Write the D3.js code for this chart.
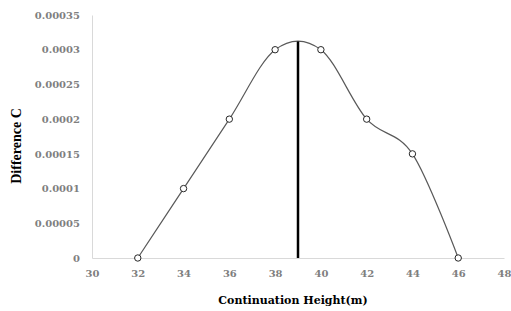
<!DOCTYPE html>
<html>
<head>
<meta charset="utf-8">
<script src="https://cdn.jsdelivr.net/npm/d3@7"></script>
<style>
  html, body { margin: 0; padding: 0; background: #fff; }
</style>
</head>
<body>
<svg id="chart"></svg>
<script>
// Data
const heights = [32, 34, 36, 38, 40, 42, 44, 46];
const differences = [0, 0.0001, 0.0002, 0.0003, 0.0003, 0.0002, 0.00015, 0];
const peakLine = [{ x: 39, y: 0 }, { x: 39, y: 0.000312 }];
const xTicks = [30, 32, 34, 36, 38, 40, 42, 44, 46, 48];
const yTicks = [0, 0.00005, 0.0001, 0.00015, 0.0002, 0.00025, 0.0003, 0.00035];
const yTickLabels = ["0", "0.00005", "0.0001", "0.00015", "0.0002", "0.00025", "0.0003", "0.00035"];

const width = 511;
const height = 311;
const marginLeft = 92;
const marginRight = 7;
const marginTop = 15;
const marginBottom = 53;

const svg = d3.select("#chart")
  .attr("width", width)
  .attr("height", height)
  .attr("viewBox", [0, 0, width, height]);

const x = d3.scaleLinear()
  .domain([30, 48])
  .range([marginLeft, width - marginRight]);

const y = d3.scaleLinear()
  .domain([0, 0.00035])
  .range([height - marginBottom, marginTop]);

// X axis
const xAxis = svg.append("g")
  .attr("transform", `translate(0,${height - marginBottom})`)
  .call(d3.axisBottom(x).tickValues(xTicks).tickSize(0).tickPadding(12).tickFormat(d3.format("d")));
xAxis.select(".domain").attr("stroke", "#d9d9d9").attr("stroke-width", 1);
xAxis.selectAll("text")
  .attr("fill", "#7f7f7f")
  .style("font-family", "'DejaVu Serif', serif")
  .style("font-weight", "bold")
  .style("font-size", "10px");

// Y axis
const yAxis = svg.append("g")
  .attr("transform", `translate(${marginLeft},0)`)
  .call(d3.axisLeft(y).tickValues(yTicks).tickSize(0).tickPadding(12)
    .tickFormat((d, i) => yTickLabels[i]));
yAxis.select(".domain").attr("stroke", "#d9d9d9").attr("stroke-width", 1);
yAxis.selectAll("text")
  .attr("fill", "#7f7f7f")
  .style("font-family", "'DejaVu Serif', serif")
  .style("font-weight", "bold")
  .style("font-size", "10px");

// Axis titles
svg.append("text")
  .attr("x", 293)
  .attr("y", 304)
  .attr("text-anchor", "middle")
  .style("font-family", "'DejaVu Serif', serif")
  .style("font-weight", "bold")
  .style("font-size", "11px")
  .attr("fill", "#000")
  .text("Continuation  Height(m)");

svg.append("text")
  .attr("transform", "translate(21,146) rotate(-90)")
  .attr("text-anchor", "middle")
  .style("font-family", "'Liberation Serif', serif")
  .style("font-weight", "bold")
  .style("font-size", "14px")
  .attr("fill", "#000")
  .text("Difference C");

// Smoothed curve
const points = heights.map((h, i) => ({ x: h, y: differences[i] }));
const line = d3.line()
  .x(d => x(d.x))
  .y(d => y(d.y))
  .curve(d3.curveCardinal.tension(0));

svg.append("path")
  .datum(points)
  .attr("fill", "none")
  .attr("stroke", "#595959")
  .attr("stroke-width", 1.2)
  .attr("d", line);

// Peak line
svg.append("path")
  .datum(peakLine)
  .attr("fill", "none")
  .attr("stroke", "#000")
  .attr("stroke-width", 2.5)
  .attr("d", d3.line().x(d => x(d.x)).y(d => y(d.y)));

// Markers
svg.append("g")
  .selectAll("circle")
  .data(points)
  .join("circle")
  .attr("cx", d => x(d.x))
  .attr("cy", d => y(d.y))
  .attr("r", 3.2)
  .attr("fill", "#fff")
  .attr("stroke", "#262626")
  .attr("stroke-width", 1);
</script>
</body>
</html>
